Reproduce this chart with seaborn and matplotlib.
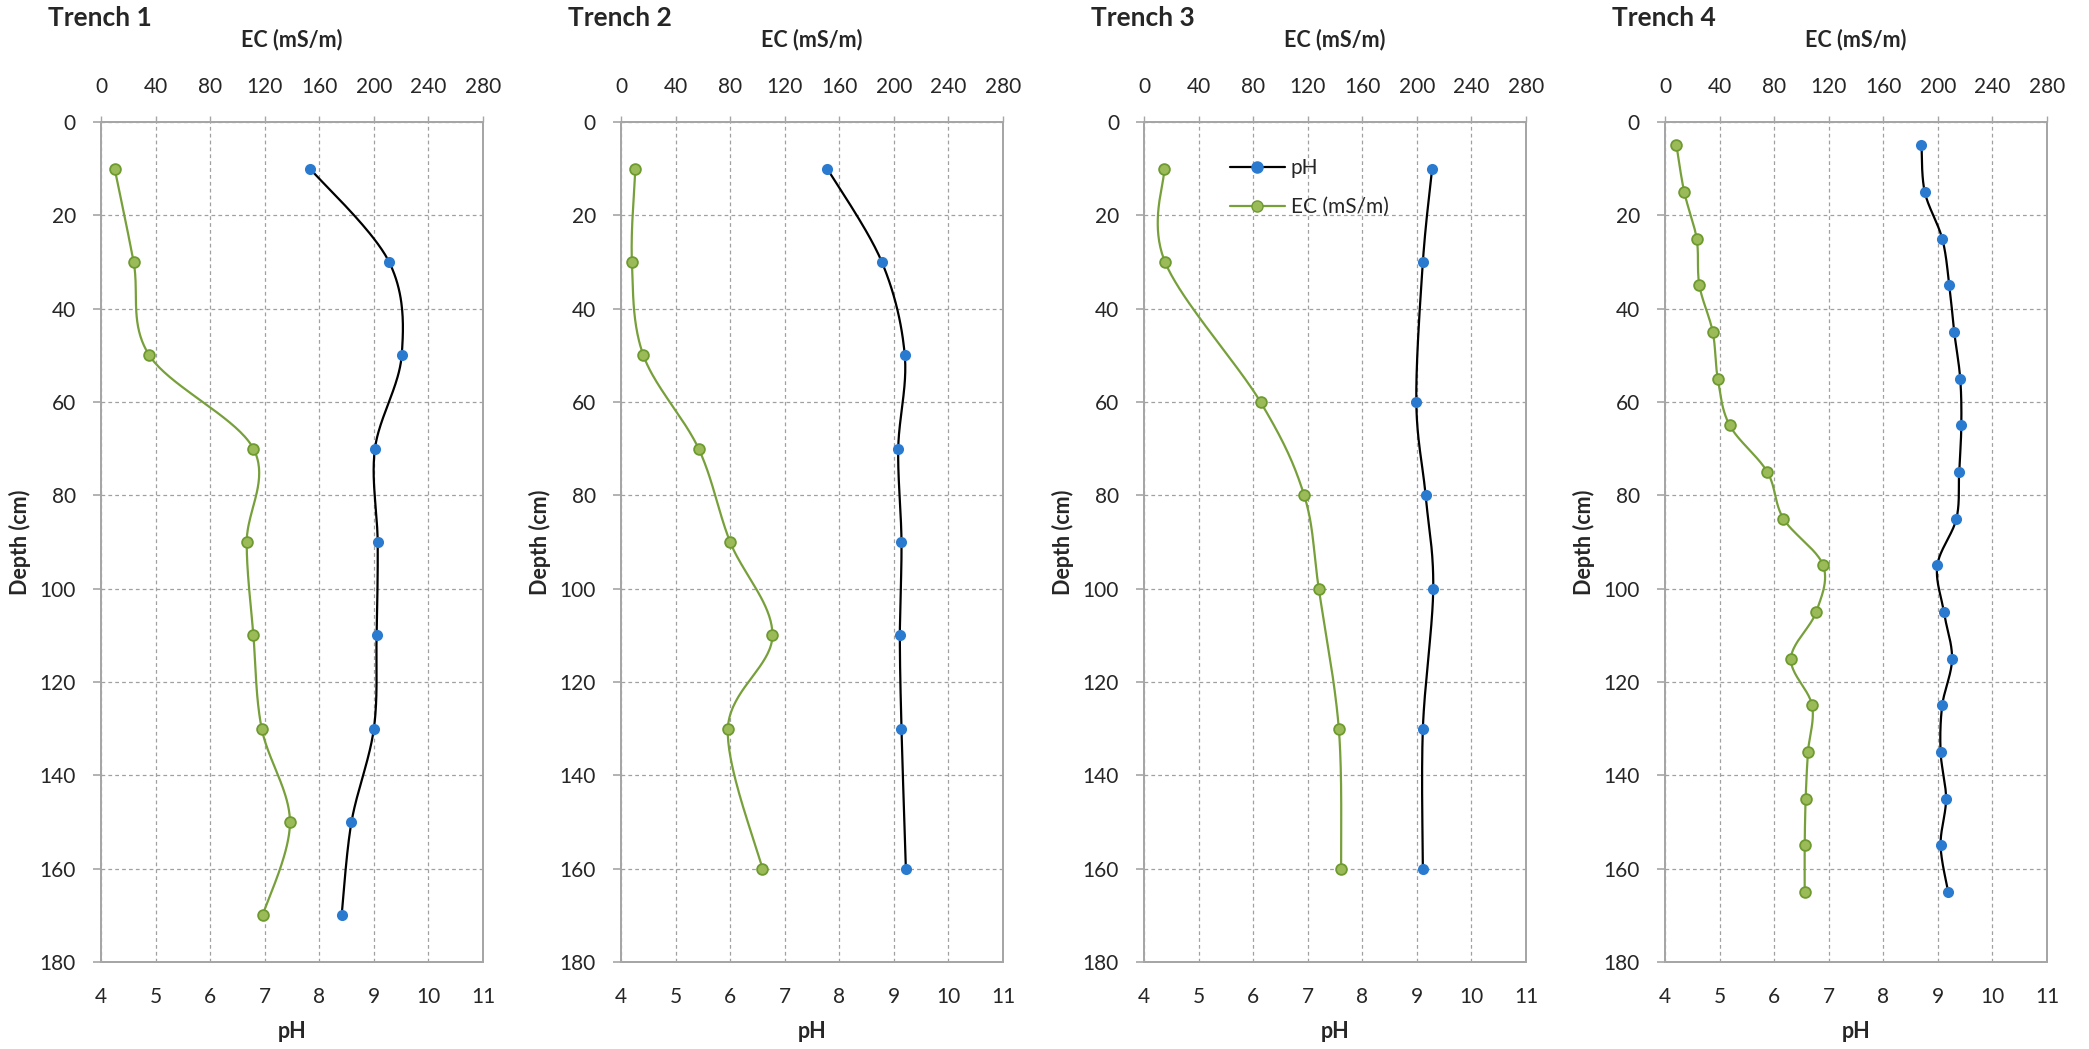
import numpy as np
import pandas as pd
import matplotlib
matplotlib.use("Agg")
import matplotlib.pyplot as plt
from matplotlib.lines import Line2D
import seaborn as sns

# ---- data -------------------------------------------------------------
trench_names = ["Trench 1", "Trench 2", "Trench 3", "Trench 4"]

depth_t1 = [10, 30, 50, 70, 90, 110, 130, 150, 170]
ph_t1 = [7.83, 9.28, 9.51, 9.02, 9.07, 9.05, 9.00, 8.59, 8.41]
ec_t1 = [10.0, 23.9, 35.4, 111.7, 106.8, 111.7, 117.8, 138.5, 118.5]

depth_t2 = [10, 30, 50, 70, 90, 110, 130, 160]
ph_t2 = [7.78, 8.78, 9.20, 9.08, 9.14, 9.11, 9.14, 9.22]
ec_t2 = [10.5, 8.0, 16.4, 56.9, 80.0, 111.0, 78.3, 103.7]

depth_t3 = [10, 30, 60, 80, 100, 130, 160]
ph_t3 = [9.28, 9.11, 8.99, 9.16, 9.30, 9.11, 9.11]
ec_t3 = [14.9, 15.4, 85.4, 117.4, 128.1, 142.8, 144.5]

depth_t4 = [5, 15, 25, 35, 45, 55, 65, 75, 85, 95, 105, 115, 125, 135, 145, 155, 165]
ph_t4 = [8.70, 8.76, 9.08, 9.21, 9.30, 9.41, 9.43, 9.39, 9.34, 8.99, 9.11, 9.26,
         9.08, 9.05, 9.15, 9.05, 9.19]
ec_t4 = [8.4, 14.1, 23.2, 25.2, 35.0, 38.7, 47.4, 75.0, 86.8, 115.9, 110.8, 92.3,
         107.8, 104.8, 103.1, 102.4, 102.4]

depths = [depth_t1, depth_t2, depth_t3, depth_t4]
ph_vals = [ph_t1, ph_t2, ph_t3, ph_t4]
ec_vals = [ec_t1, ec_t2, ec_t3, ec_t4]

ph_ticks = list(range(4, 12))
ec_ticks = list(range(0, 281, 40))
depth_ticks = list(range(0, 181, 20))

# ---- style ------------------------------------------------------------
sns.set_style("white")
plt.rcParams["font.family"] = ["Lato", "DejaVu Sans"]

PH_LINE = "#000000"
PH_MARK = "#2A7BD0"
EC_LINE = "#77A03B"
EC_FILL = "#9BBB59"
EC_EDGE = "#6E9A30"
GRID = "#A0A0A0"
SPINE = "#A6A6A6"
TXT = "#262626"


def smooth_curve(xs, ys, sx, sy, n=40):
    """Bezier smoothing through the points (control arms = neighbour chord / 6)."""
    p = np.column_stack([np.asarray(xs, float) * sx, np.asarray(ys, float) * sy])
    out = [p[0]]
    m = len(p)
    t = np.linspace(0, 1, n)[1:, None]
    for i in range(m - 1):
        p0 = p[i - 1] if i > 0 else p[i]
        p1, p2 = p[i], p[i + 1]
        p3 = p[i + 2] if i + 2 < m else p[i + 1]
        c1 = p1 + (p2 - p0) / 6.0
        c2 = p2 - (p3 - p1) / 6.0
        seg = ((1 - t) ** 3) * p1 + 3 * ((1 - t) ** 2) * t * c1 + 3 * (1 - t) * t ** 2 * c2 + t ** 3 * p2
        out.extend(seg)
    out = np.array(out)
    return out[:, 0] / sx, out[:, 1] / sy


W, H = 2089, 1049
fig = plt.figure(figsize=(W / 100, H / 100), dpi=100)

ax_left_px = [101, 621, 1144, 1665]
ax_w_px = 382
ax_top_px, ax_bot_px = 122, 962

# pixel scales used for the smoothing (per data unit)
SX_PH = ax_w_px / 7.0
SX_EC = ax_w_px / 280.0
SY = (ax_bot_px - ax_top_px) / 180.0

LABEL_FS = 15.5

for k in range(4):
    rect = [ax_left_px[k] / W, 1 - ax_bot_px / H, ax_w_px / W, (ax_bot_px - ax_top_px) / H]
    ax = fig.add_axes(rect)
    ax2 = ax.twiny()

    # pH on the bottom axis
    cx, cy = smooth_curve(ph_vals[k], depths[k], SX_PH, SY)
    sns.lineplot(x=cx, y=cy, sort=False, estimator=None, color=PH_LINE,
                 linewidth=1.6, ax=ax)
    sns.scatterplot(x=ph_vals[k], y=depths[k], s=64, color=PH_MARK,
                    edgecolor=PH_MARK, linewidth=0, ax=ax, zorder=5)

    # EC on the top axis
    ex, ey = smooth_curve(ec_vals[k], depths[k], SX_EC, SY)
    sns.lineplot(x=ex, y=ey, sort=False, estimator=None, color=EC_LINE,
                 linewidth=1.6, ax=ax2)
    sns.scatterplot(x=ec_vals[k], y=depths[k], s=60, color=EC_FILL,
                    edgecolor=EC_EDGE, linewidth=1.3, ax=ax2, zorder=5)

    ax.set_xlim(4, 11)
    ax.set_ylim(180, 0)
    ax2.set_xlim(0, 280)
    ax2.set_ylim(180, 0)

    ax.set_xticks(ph_ticks)
    ax.set_yticks(depth_ticks)
    ax2.set_xticks(ec_ticks)

    ax.grid(True, color=GRID, linestyle=(0, (3, 2.5)), linewidth=0.9)
    ax2.grid(False)
    ax.set_axisbelow(True)
    ax2.patch.set_visible(False)

    for a in (ax, ax2):
        for s in a.spines.values():
            s.set_color(SPINE)
            s.set_linewidth(1.3)

    ax.tick_params(axis="x", bottom=True, length=0, pad=18, labelsize=15,
                   labelcolor=TXT)
    ax.tick_params(axis="y", left=True, length=6, width=1.2, color=SPINE,
                   direction="out", pad=12, labelsize=15, labelcolor=TXT)
    ax2.tick_params(axis="x", top=True, length=4, width=1.0, color=SPINE,
                    direction="out", pad=14, labelsize=15, labelcolor=TXT)

    ax.set_xlabel("pH", fontsize=LABEL_FS, fontweight="bold", color=TXT, labelpad=10)
    ax.set_ylabel("Depth (cm)", fontsize=LABEL_FS, fontweight="bold", color=TXT, labelpad=6)
    ax2.set_xlabel("EC (mS/m)", fontsize=LABEL_FS, fontweight="bold", color=TXT, labelpad=22)

    fig.text((ax_left_px[k] - 53) / W, 1 - 18 / H, trench_names[k], fontsize=19,
             fontweight="bold", color=TXT, ha="left", va="center")

    if k == 2:
        handles = [
            Line2D([], [], color=PH_LINE, linewidth=1.6, marker="o", markersize=8,
                   markerfacecolor=PH_MARK, markeredgecolor=PH_MARK),
            Line2D([], [], color=EC_LINE, linewidth=1.6, marker="o", markersize=8,
                   markerfacecolor=EC_FILL, markeredgecolor=EC_EDGE),
        ]
        leg = ax.legend(handles, ["pH", "EC (mS/m)"], loc="upper left",
                        bbox_to_anchor=((1222 - ax_left_px[k]) / ax_w_px, 1 - (150 - ax_top_px) / (ax_bot_px - ax_top_px)),
                        frameon=False, fontsize=15, handlelength=2.6,
                        handletextpad=0.3, labelspacing=0.9, borderaxespad=0)
        for t in leg.get_texts():
            t.set_color(TXT)

fig.savefig("out.png", dpi=100, facecolor="white")
